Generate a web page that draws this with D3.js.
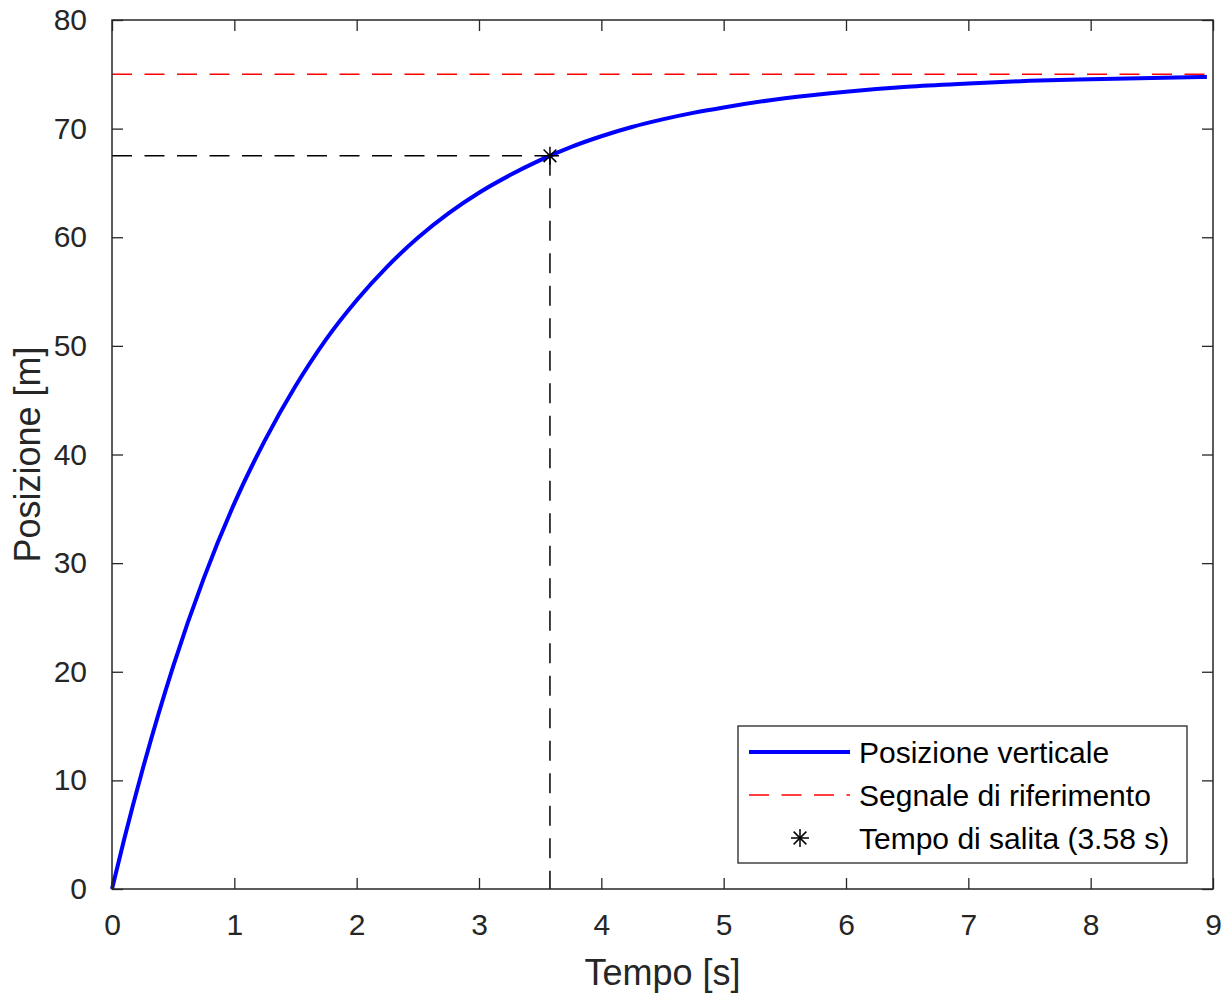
<!DOCTYPE html>
<html>
<head>
<meta charset="utf-8">
<script src="https://cdn.jsdelivr.net/npm/d3@7"></script>
<style>
  body { margin: 0; background: #fff; }
  text { font-family: "Liberation Sans", Arial, Helvetica, sans-serif; }
</style>
</head>
<body>
<svg id="chart"></svg>
<script>
// time samples [s] and vertical position [m]
const tempo = [0, 0.1, 0.25, 0.5, 0.75, 1, 1.25, 1.5, 1.75, 2, 2.25, 2.5, 2.75, 3, 3.25, 3.5, 3.75, 4, 4.25, 4.5, 4.75, 5, 5.5, 6, 6.5, 7, 7.5, 8, 8.5, 8.95];
const posizione = [0, 4.6, 11.0, 20.5, 28.6, 35.5, 41.3, 46.3, 50.6, 54.2, 57.3, 59.95, 62.2, 64.1, 65.7, 67.1, 68.3, 69.3, 70.15, 70.85, 71.45, 71.95, 72.8, 73.4, 73.85, 74.15, 74.4, 74.55, 74.67, 74.75];

const riferimento = 75;
const tSalita = 3.58;
const ySalita = 67.5;

const xTicks = [0, 1, 2, 3, 4, 5, 6, 7, 8, 9];
const yTicks = [0, 10, 20, 30, 40, 50, 60, 70, 80];
const legendLabels = ["Posizione verticale", "Segnale di riferimento", "Tempo di salita (3.58 s)"];

const width = 1227;
const height = 996;
const margin = { top: 20, right: 14, bottom: 107, left: 112 };
const axisColor = "#262626";

const svg = d3.select("#chart").attr("width", width).attr("height", height);
svg.append("rect").attr("width", width).attr("height", height).attr("fill", "#fff");

const x = d3.scaleLinear().domain([0, 9]).range([margin.left, width - margin.right]);
const y = d3.scaleLinear().domain([0, 80]).range([height - margin.bottom, margin.top]);

// rise-time guide lines (black dashed)
svg.append("line")
    .attr("x1", x(0)).attr("x2", x(tSalita))
    .attr("y1", y(ySalita)).attr("y2", y(ySalita))
    .attr("stroke", "#000").attr("stroke-width", 1.5)
    .attr("stroke-dasharray", "20,12.5");
svg.append("line")
    .attr("x1", x(tSalita)).attr("x2", x(tSalita))
    .attr("y1", y(ySalita)).attr("y2", y(0))
    .attr("stroke", "#000").attr("stroke-width", 1.5)
    .attr("stroke-dasharray", "20,12.5");

// reference signal (red dashed)
svg.append("line")
    .attr("x1", x(0)).attr("x2", x(9))
    .attr("y1", y(riferimento)).attr("y2", y(riferimento))
    .attr("stroke", "#ff0000").attr("stroke-width", 1.5)
    .attr("stroke-dasharray", "20,12.5");

// response curve
const line = d3.line()
    .x((d, i) => x(tempo[i]))
    .y(d => y(d))
    .curve(d3.curveMonotoneX);
svg.append("path")
    .datum(posizione)
    .attr("d", line)
    .attr("fill", "none")
    .attr("stroke", "#0000ff")
    .attr("stroke-width", 4)
    .attr("stroke-linejoin", "round");

// asterisk marker
function asterisk(g, cx, cy, r) {
    const a = r * 0.7071;
    const segs = [[-r, 0, r, 0], [0, -r, 0, r], [-a, -a, a, a], [-a, a, a, -a]];
    g.selectAll(null).data(segs).join("line")
        .attr("x1", d => cx + d[0]).attr("y1", d => cy + d[1])
        .attr("x2", d => cx + d[2]).attr("y2", d => cy + d[3])
        .attr("stroke", "#000").attr("stroke-width", 1.5);
}
asterisk(svg.append("g"), x(tSalita), y(ySalita), 9);

// axes box with inward ticks on all four sides
const tickLen = 11;
const axes = svg.append("g").attr("font-size", 30).attr("fill", axisColor);

axes.append("g")
    .attr("transform", `translate(0,${y(0)})`)
    .call(d3.axisBottom(x).tickValues(xTicks).tickFormat(d3.format("d")).tickSizeInner(-tickLen).tickSizeOuter(0).tickPadding(tickLen + 14))
    .call(g => g.selectAll("text").attr("font-size", 30).attr("fill", axisColor).attr("font-family", "Liberation Sans, Arial, sans-serif"));

axes.append("g")
    .attr("transform", `translate(${x(0)},0)`)
    .call(d3.axisLeft(y).tickValues(yTicks).tickFormat(d3.format("d")).tickSizeInner(-tickLen).tickSizeOuter(0).tickPadding(tickLen + 14))
    .call(g => g.selectAll("text").attr("font-size", 30).attr("fill", axisColor).attr("font-family", "Liberation Sans, Arial, sans-serif"));

axes.append("g")
    .attr("transform", `translate(0,${y(80)})`)
    .call(d3.axisTop(x).tickValues(xTicks).tickFormat("").tickSizeInner(-tickLen).tickSizeOuter(0));

axes.append("g")
    .attr("transform", `translate(${x(9)},0)`)
    .call(d3.axisRight(y).tickValues(yTicks).tickFormat("").tickSizeInner(-tickLen).tickSizeOuter(0));

axes.selectAll(".domain").remove();
axes.selectAll(".tick line").attr("stroke", axisColor).attr("stroke-width", 1.3);

svg.append("rect")
    .attr("x", x(0)).attr("y", y(80))
    .attr("width", x(9) - x(0)).attr("height", y(0) - y(80))
    .attr("fill", "none").attr("stroke", axisColor).attr("stroke-width", 1.5);

// axis labels
svg.append("text")
    .attr("x", (x(0) + x(9)) / 2).attr("y", 985)
    .attr("text-anchor", "middle").attr("font-size", 36).attr("fill", axisColor)
    .text("Tempo [s]");
svg.append("text")
    .attr("transform", `translate(40,${(y(0) + y(80)) / 2}) rotate(-90)`)
    .attr("text-anchor", "middle").attr("font-size", 36).attr("fill", axisColor)
    .text("Posizione [m]");

// legend
const lg = svg.append("g");
lg.append("rect")
    .attr("x", 738).attr("y", 726).attr("width", 449).attr("height", 137)
    .attr("fill", "#fff").attr("stroke", axisColor).attr("stroke-width", 1.3);
const rowY = [752, 795, 838];
lg.append("line").attr("x1", 749).attr("x2", 850).attr("y1", rowY[0]).attr("y2", rowY[0])
    .attr("stroke", "#0000ff").attr("stroke-width", 4);
lg.append("line").attr("x1", 749).attr("x2", 850).attr("y1", rowY[1]).attr("y2", rowY[1])
    .attr("stroke", "#ff0000").attr("stroke-width", 1.5).attr("stroke-dasharray", "20,12.5");
asterisk(lg.append("g"), 800, rowY[2], 9);
lg.selectAll("text.lab").data(legendLabels).join("text")
    .attr("class", "lab")
    .attr("x", 859).attr("y", (d, i) => rowY[i] + 11)
    .attr("font-size", 30).attr("fill", "#000")
    .text(d => d);
</script>
</body>
</html>
